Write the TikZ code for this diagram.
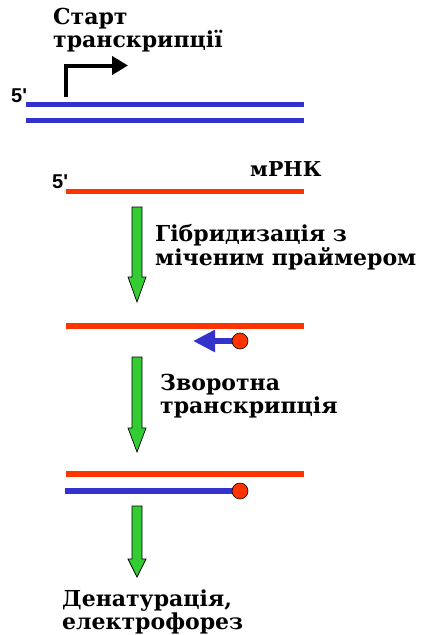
\documentclass[tikz,border=0pt]{standalone}
\usepackage{fontspec}
\setmainfont{DejaVu Serif}
\newfontfamily\primefont{Liberation Sans}
\usetikzlibrary{arrows.meta}
\definecolor{dnablue}{HTML}{3333CC}
\definecolor{rnared}{HTML}{FF3300}
\definecolor{stepgreen}{HTML}{33CC33}

\begin{document}
\begin{tikzpicture}[
  x=1pt, y=-1pt,
  label/.style={anchor=base west, inner sep=0pt, align=left,
                font=\fontsize{22}{20.5}\selectfont\bfseries},
  prime/.style={anchor=base west, inner sep=0pt,
                font=\fontsize{20}{20}\selectfont\primefont\bfseries},
  strand/.style={line width=5.5pt},
  tag/.style={circle, draw=black, line width=0.6pt, fill=rnared,
              minimum size=16pt, inner sep=0pt},
  flow/.style={draw=black, line width=0.7pt, fill=stepgreen}
]
\useasboundingbox[fill=white] (0,0) rectangle (424,635);

% DNA, start of transcription
\node[label] (start) at (53,47) {Старт\\транскрипції};
\node[prime] (dna5) at (11,102.5) {5'};
\draw[strand, dnablue] (26,104.5) -- (304,104.5);
\draw[strand, dnablue] (26,120.5) -- (304,120.5);
\coordinate (tss) at (65.5,97);
\coordinate (tssend) at (128,65.5);
\draw[line width=4pt, -{Triangle[length=16pt,width=18pt]}] (tss) |- (tssend);

% mRNA
\node[prime] (rna5) at (52,188.5) {5'};
\node[label, font=\fontsize{20.5}{20.5}\selectfont\bfseries] (mrna) at (250,176) {мРНК};
\draw[strand, rnared] (66,191.5) -- (304,191.5);

% green step arrows
\foreach \top/\tip/\head in {207/302/25, 357/452/24, 506/577/18}
  \filldraw[flow] (132,\top) -- (142,\top) -- (142,\tip-\head) -- (146,\tip-\head)
    -- (137,\tip) -- (128,\tip-\head) -- (132,\tip-\head) -- cycle;

% hybridisation with labelled primer
\node[label] (hybrid) at (155,265) {Гібридизація з\\міченим праймером};
\draw[strand, rnared] (66,326) -- (304,326);
\coordinate (primer) at (240,341);
\coordinate (primertip) at (193,341);
\draw[line width=6pt, dnablue, -{Triangle[length=22pt,width=21pt]}] (primer) -- (primertip);
\node[tag] (primerdot) at (primer) {};

% reverse transcription
\node[label] (rt) at (160,413) {Зворотна\\транскрипція};
\draw[strand, rnared] (66,474) -- (304,474);
\coordinate (cdnastart) at (65,491);
\coordinate (cdnaend) at (240,491);
\draw[strand, dnablue] (cdnastart) -- (cdnaend);
\node[tag] (cdnadot) at (cdnaend) {};

% denaturation
\node[label] (denat) at (62,629) {Денатурація,\\електрофорез};
\end{tikzpicture}
\end{document}
